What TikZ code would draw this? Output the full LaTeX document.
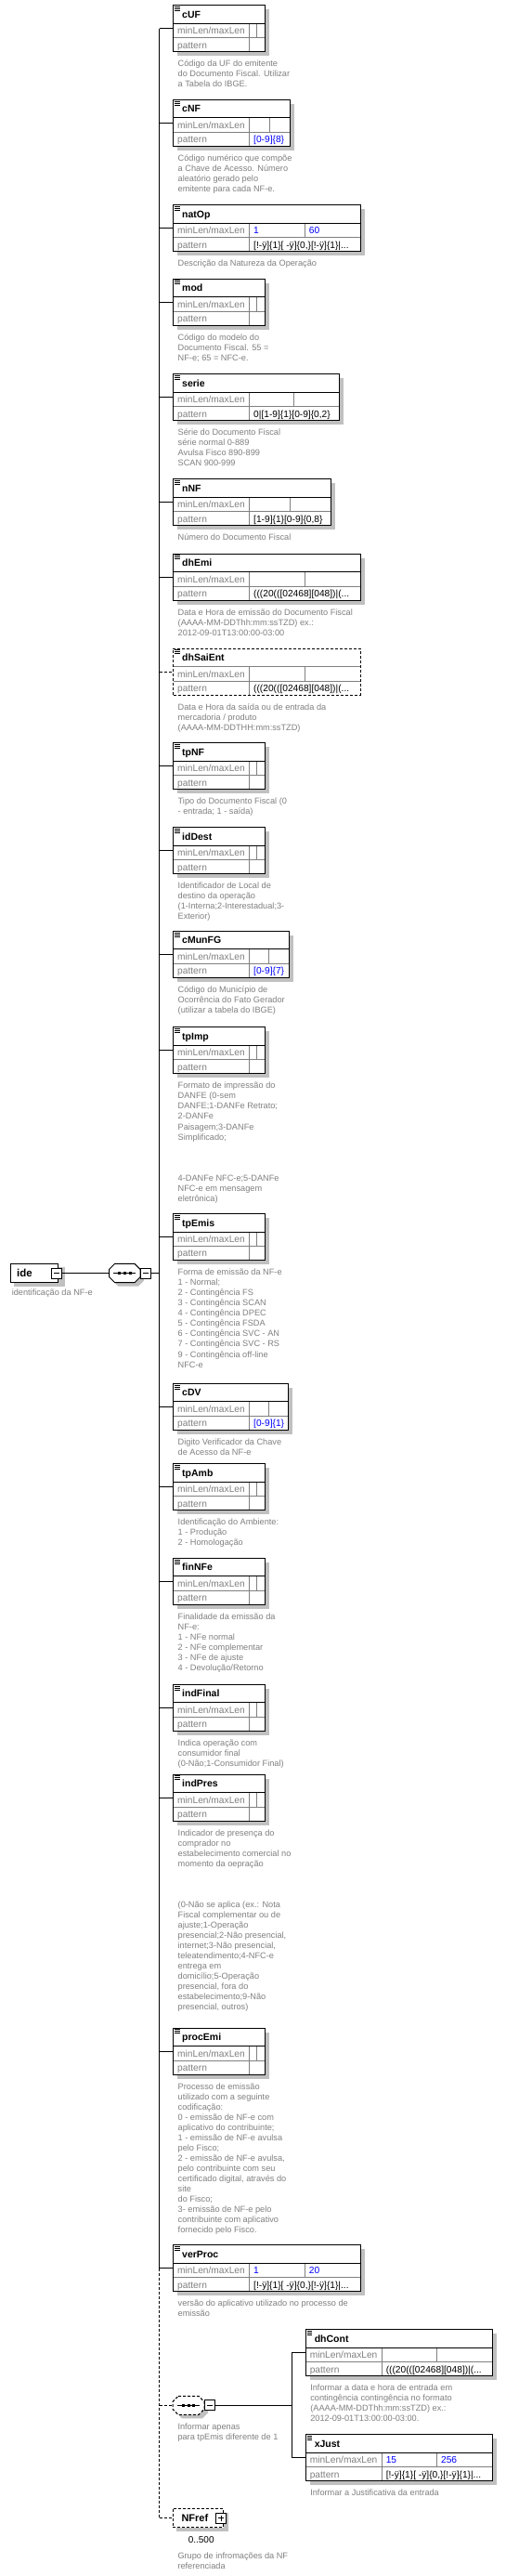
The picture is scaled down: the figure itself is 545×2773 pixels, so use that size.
\documentclass[tikz,border=0pt]{standalone}
\usepackage{fontspec}
\setmainfont{Liberation Sans}
\definecolor{shadowc}{RGB}{192,192,192}
\definecolor{descc}{RGB}{128,128,128}
\definecolor{labc}{RGB}{128,128,128}
\definecolor{gridc}{RGB}{128,128,128}
\definecolor{valc}{RGB}{0,0,255}
\newif\ifeshadow \eshadowtrue
\tikzset{
 elbox/.style={draw=black, line width=1pt, inner sep=0pt, outer sep=0pt, anchor=north west, minimum height=50pt},
 ttl/.style={font=\fontsize{10.5}{12}\selectfont\bfseries, inner sep=0pt, anchor=base west},
 lab/.style={font=\fontsize{10.2}{12}\selectfont, text=labc, inner sep=0pt, anchor=base west},
 val/.style={font=\fontsize{10.2}{12}\selectfont, text=valc, inner sep=0pt, anchor=base west},
 pat/.style={font=\fontsize{10.2}{12}\selectfont, text=black, inner sep=0pt, anchor=base west},
 dsc/.style={font=\fontsize{9.2}{11.05}\selectfont, text=descc, inner sep=0pt, anchor=north west, align=left},
 gridln/.style={draw=gridc, line width=1pt},
 dsh/.style={dash pattern=on 3pt off 2pt},
 pmbox/.style={draw=black, fill=white, line width=1pt, inner sep=0pt, outer sep=0pt, minimum size=11pt},
}
\newcommand\elem[8][]{%
 \pgfmathsetmacro\eL{#3}\pgfmathsetmacro\eT{#4}\pgfmathsetmacro\eR{#5}%
 \pgfmathsetmacro\eV{\eL+82}\pgfmathsetmacro\eM{(\eV+\eR)/2}%
 \pgfmathsetmacro\eW{\eR-\eL}%
 \ifeshadow\fill[shadowc] (\eL+4.5,\eT+4.5) rectangle (\eR+4.5,\eT+54.5);\fi
 \fill[white] (\eL,\eT) rectangle (\eR,\eT+50);
 \draw[gridln] (\eL,\eT+35) -- (\eR,\eT+35);
 \draw[gridln] (\eV,\eT+19.5) -- (\eV,\eT+50);
 \draw[gridln] (\eM,\eT+19.5) -- (\eM,\eT+35);
 \ifeshadow\draw (\eL,\eT+19.5) -- (\eR,\eT+19.5);\else\draw[gridln] (\eL,\eT+19.5) -- (\eR,\eT+19.5);\fi
 \node[elbox,#1,minimum width=\eW pt] (#2) at (\eL,\eT) {};
 \draw[line width=0.8pt] (\eL+1.5,\eT+1.8) -- ++(5.5,0) (\eL+1.5,\eT+3.8) -- ++(5.5,0) (\eL+1.5,\eT+5.8) -- ++(5.5,0);
 \node[ttl] (#2-t) at (\eL+9,\eT+13.6) {#2};
 \node[lab] (#2-a) at (\eL+4,\eT+31) {minLen/maxLen};
 \node[lab] (#2-b) at (\eL+4,\eT+46.3) {pattern};
 \node[val] (#2-c) at (\eV+4,\eT+31) {#6};
 \node[val] (#2-e) at (\eM+4,\eT+31) {#7};
 \node[pat] (#2-f) at (\eV+4,\eT+46.3) {#8};
}
\newcommand\desc[2]{\node[dsc] (#1-d) at ([xshift=4.5pt,yshift=-6.1pt]#1.south west) {\rule{0pt}{9.5pt}#2};}
\newcommand\octa[5]{\draw[#1] (#2+6,#3) -- (#4-6,#3) -- (#4,#3+6) -- (#4,#5-6) -- (#4-6,#5) -- (#2+6,#5) -- (#2,#5-6) -- (#2,#3+6) -- cycle;}
\newcommand\seqdots[2]{\draw[line width=1pt] (#1-12,#2) -- (#1+12,#2);
 \fill (#1-7.2,#2-1.5) rectangle ++(3,3); \fill (#1-1.5,#2-1.5) rectangle ++(3,3); \fill (#1+4.2,#2-1.5) rectangle ++(3,3);}
\def\pat{[!-ÿ]\{1\}[ -ÿ]\{0,\}[!-ÿ]\{1\}|...}
\def\dpat{(((20(([02468][048])|(...}
\begin{document}
\begin{tikzpicture}[x=1pt,y=-1pt,line width=1pt]
\useasboundingbox (0,0) rectangle (545,2773);
\fill[white] (0,0) rectangle (545,2773);
\coordinate (bus) at (171.7,0);
\coordinate (bus2) at (314.3,0);

% root element ide
\fill[shadowc] (15,1364.3) rectangle (70,1384.7);
\node[elbox, fill=white, minimum width=51pt, minimum height=20.4pt] (ide) at (11,1360.3) {};
\node[font=\fontsize{11.5}{13}\selectfont\bfseries, inner sep=0pt, anchor=base west] (ide-t) at (17.7,1374.4) {ide};
\node[pmbox] (ide-m) at (61.3,1370.5) {};
\draw ([xshift=2.5pt]ide-m.west) -- ([xshift=-2.5pt]ide-m.east);
\node[dsc, anchor=base west] (ide-d) at (12.3,1394.3) {identificação da NF-e};

% sequence
\octa{fill=shadowc,draw=none}{121.7}{1364.3}{155}{1384.7}
\octa{fill=white,draw=black}{117.7}{1360.3}{151}{1380.7}
\node[inner sep=0pt, outer sep=0pt, minimum width=33.3pt, minimum height=20.4pt] (seq) at (134.35,1370.5) {};
\seqdots{134.35}{1370.5}
\node[pmbox] (seq-m) at (157,1370.5) {};
\draw ([xshift=2.5pt]seq-m.west) -- ([xshift=-2.5pt]seq-m.east);
\draw (ide-m.east) -- (seq.west);
\draw (seq-m.east) -- (bus |- seq-m.east);

% elements
\elem{cUF}{186.7}{5.7}{285}{}{}{}
\elem{cNF}{186.7}{107.3}{312}{}{}{\textcolor{valc}{[0-9]\{8\}}}
\elem{natOp}{186.7}{220.7}{388}{1}{60}{\pat}
\elem{mod}{186.7}{300}{285}{}{}{}
\elem{serie}{186.7}{402.7}{365}{}{}{0|[1-9]\{1\}[0-9]\{0,2\}}
\elem{nNF}{186.7}{515.7}{356}{}{}{[1-9]\{1\}[0-9]\{0,8\}}
\elem{dhEmi}{186.7}{596}{388}{}{}{\dpat}
\eshadowfalse
\elem[dsh]{dhSaiEnt}{186.7}{698}{388}{}{}{\dpat}
\eshadowtrue
\elem{tpNF}{186.7}{799.7}{285}{}{}{}
\elem{idDest}{186.7}{890.7}{285}{}{}{}
\elem{cMunFG}{186.7}{1002.3}{311}{}{}{\textcolor{valc}{[0-9]\{7\}}}
\elem{tpImp}{186.7}{1105.7}{285}{}{}{}
\elem{tpEmis}{186.7}{1306.5}{285}{}{}{}
\elem{cDV}{186.7}{1489.3}{310}{}{}{\textcolor{valc}{[0-9]\{1\}}}
\elem{tpAmb}{186.7}{1575.7}{285}{}{}{}
\elem{finNFe}{186.7}{1677.3}{285}{}{}{}
\elem{indFinal}{186.7}{1813.3}{285}{}{}{}
\elem{indPres}{186.7}{1910}{285}{}{}{}
\elem{procEmi}{186.7}{2183}{285}{}{}{}
\elem{verProc}{186.7}{2416.7}{388}{1}{20}{\pat}
\elem{dhCont}{329.3}{2507.7}{530}{}{}{\dpat}
\elem{xJust}{329.3}{2620.7}{530}{15}{256}{\pat}

% descriptions
\desc{cUF}{Código da UF do emitente\\do Documento Fiscal. Utilizar\\a Tabela do IBGE.}
\desc{cNF}{Código numérico que compõe\\a Chave de Acesso. Número\\aleatório gerado pelo\\emitente para cada NF-e.}
\desc{natOp}{Descrição da Natureza da Operação}
\desc{mod}{Código do modelo do\\Documento Fiscal. 55 =\\NF-e; 65 = NFC-e.}
\desc{serie}{Série do Documento Fiscal\\série normal 0-889\\Avulsa Fisco 890-899\\SCAN 900-999}
\desc{nNF}{Número do Documento Fiscal}
\desc{dhEmi}{Data e Hora de emissão do Documento Fiscal\\(AAAA-MM-DDThh:mm:ssTZD) ex.:\\2012-09-01T13:00:00-03:00}
\desc{dhSaiEnt}{Data e Hora da saída ou de entrada da\\mercadoria / produto\\(AAAA-MM-DDTHH:mm:ssTZD)}
\desc{tpNF}{Tipo do Documento Fiscal (0\\- entrada; 1 - saída)}
\desc{idDest}{Identificador de Local de\\destino da operação\\(1-Interna;2-Interestadual;3-\\Exterior)}
\desc{cMunFG}{Código do Município de\\Ocorrência do Fato Gerador\\(utilizar a tabela do IBGE)}
\desc{tpImp}{Formato de impressão do\\DANFE (0-sem\\DANFE;1-DANFe Retrato;\\2-DANFe\\Paisagem;3-DANFe\\Simplificado;\\~\\~\\~\\4-DANFe NFC-e;5-DANFe\\NFC-e em mensagem\\eletrônica)}
\desc{tpEmis}{Forma de emissão da NF-e\\1 - Normal;\\2 - Contingência FS\\3 - Contingência SCAN\\4 - Contingência DPEC\\5 - Contingência FSDA\\6 - Contingência SVC - AN\\7 - Contingência SVC - RS\\9 - Contingência off-line\\NFC-e}
\desc{cDV}{Digito Verificador da Chave\\de Acesso da NF-e}
\desc{tpAmb}{Identificação do Ambiente:\\1 - Produção\\2 - Homologação}
\desc{finNFe}{Finalidade da emissão da\\NF-e:\\1 - NFe normal\\2 - NFe complementar\\3 - NFe de ajuste\\4 - Devolução/Retorno}
\desc{indFinal}{Indica operação com\\consumidor final\\(0-Não;1-Consumidor Final)}
\desc{indPres}{Indicador de presença do\\comprador no\\estabelecimento comercial no\\momento da oepração\\~\\~\\~\\(0-Não se aplica (ex.: Nota\\Fiscal complementar ou de\\ajuste;1-Operação\\presencial;2-Não presencial,\\internet;3-Não presencial,\\teleatendimento;4-NFC-e\\entrega em\\domicílio;5-Operação\\presencial, fora do\\estabelecimento;9-Não\\presencial, outros)}
\desc{procEmi}{Processo de emissão\\utilizado com a seguinte\\codificação:\\0 - emissão de NF-e com\\aplicativo do contribuinte;\\1 - emissão de NF-e avulsa\\pelo Fisco;\\2 - emissão de NF-e avulsa,\\pelo contribuinte com seu\\certificado digital, através do\\site\\do Fisco;\\3- emissão de NF-e pelo\\contribuinte com aplicativo\\fornecido pelo Fisco.}
\desc{verProc}{versão do aplicativo utilizado no processo de\\emissão}
\desc{dhCont}{Informar a data e hora de entrada em\\contingência contingência no formato\\(AAAA-MM-DDThh:mm:ssTZD) ex.:\\2012-09-01T13:00:00-03:00.}
\desc{xJust}{Informar a Justificativa da entrada}

% inner optional sequence
\octa{fill=shadowc,draw=none}{190}{2583.3}{224}{2603.3}
\octa{fill=white,draw=black,dsh}{186}{2579.3}{220}{2599.3}
\node[inner sep=0pt, outer sep=0pt, minimum width=34pt, minimum height=20pt] (seq2) at (203,2589.3) {};
\seqdots{203}{2589.3}
\node[pmbox] (seq2-m) at (225.5,2589.3) {};
\draw ([xshift=2.5pt]seq2-m.west) -- ([xshift=-2.5pt]seq2-m.east);
\node[dsc, anchor=north west] (seq2-d) at (191,2605.5) {\rule{0pt}{9.5pt}Informar apenas\\para tpEmis diferente de 1};
\draw (seq2-m.east) -- (bus2 |- seq2-m.east);
\draw (bus2 |- dhCont.west) -- (bus2 |- xJust.west);
\draw (bus2 |- dhCont.west) -- (dhCont.west);
\draw (bus2 |- xJust.west) -- (xJust.west);

% NFref
\fill[shadowc] (190,2704.7) rectangle (246,2724.7);
\node[elbox, dsh, fill=white, minimum width=54.7pt, minimum height=20pt] (NFref) at (186,2700.7) {};
\node[font=\fontsize{11}{13}\selectfont\bfseries, inner sep=0pt, anchor=base west] (NFref-t) at (195,2714.6) {NFref};
\node[pmbox] (NFref-p) at (238,2710.5) {};
\draw ([xshift=2.5pt]NFref-p.west) -- ([xshift=-2.5pt]NFref-p.east);
\draw ([yshift=2.5pt]NFref-p.south) -- ([yshift=-2.5pt]NFref-p.north);
\node[font=\fontsize{10}{12}\selectfont, inner sep=0pt, anchor=base] (NFref-o) at (216.7,2737.6) {0..500};
\node[dsc, anchor=north west] (NFref-d) at (191,2744.2) {\rule{0pt}{9.5pt}Grupo de infromações da NF\\referenciada};

% bus and connectors
\draw (bus |- cUF.west) -- (bus |- verProc.west);
\draw[dsh] (bus |- verProc.west) -- (bus |- NFref.west);
\foreach \n in {cUF,cNF,natOp,mod,serie,nNF,dhEmi,tpNF,idDest,cMunFG,tpImp,tpEmis,cDV,tpAmb,finNFe,indFinal,indPres,procEmi,verProc}
  \draw (bus |- \n.west) -- (\n.west);
\draw[dsh] (bus |- dhSaiEnt.west) -- (dhSaiEnt.west);
\draw[dsh] (bus |- seq2.west) -- (seq2.west);
\draw[dsh] (bus |- NFref.west) -- (NFref.west);
\end{tikzpicture}
\end{document}
